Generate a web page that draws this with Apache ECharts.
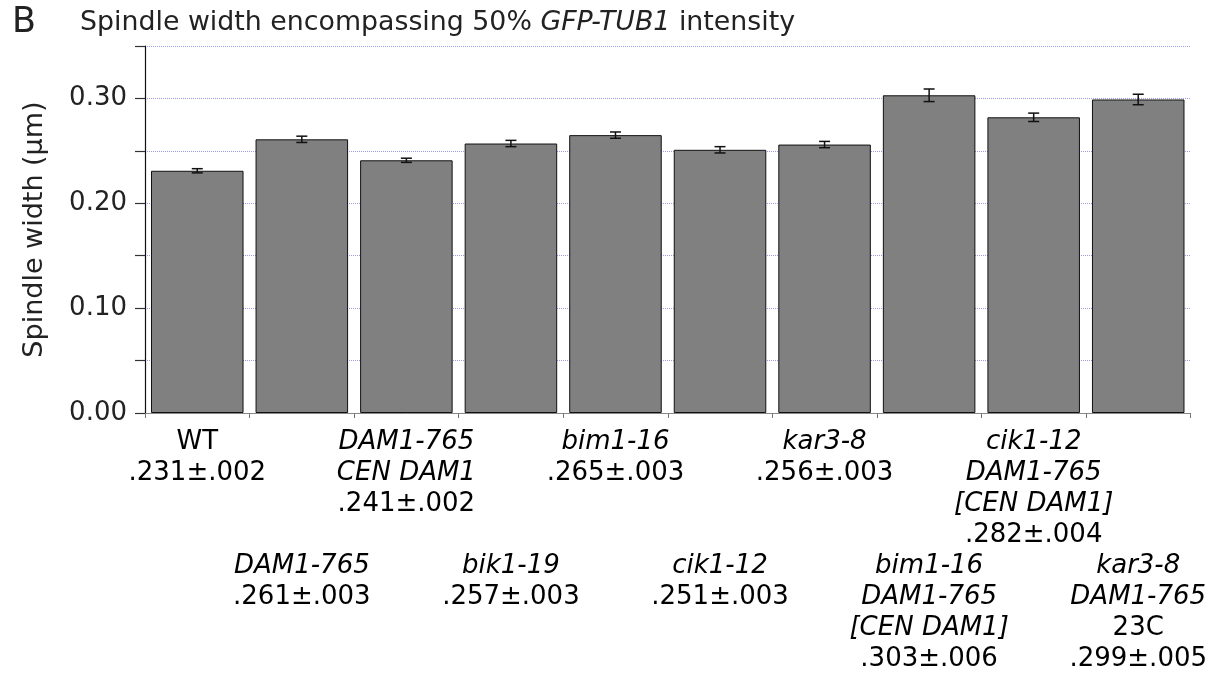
<!DOCTYPE html>
<html>
<head>
<meta charset="utf-8">
<script src="https://cdn.jsdelivr.net/npm/echarts@6/dist/echarts.min.js"></script>
<style>
html,body{margin:0;padding:0;background:#fff;}
#chart{width:1212px;height:677px;}
</style>
</head>
<body>
<div id="chart"></div>
<script>
// ---- data ----
const categories = ['WT', 'DAM1-765', 'DAM1-765 CEN DAM1', 'bik1-19', 'bim1-16', 'cik1-12', 'kar3-8',
  'bim1-16 DAM1-765 [CEN DAM1]', 'cik1-12 DAM1-765 [CEN DAM1]', 'kar3-8 DAM1-765 23C'];
const labelLines = [['WT'], ['DAM1-765'], ['DAM1-765', 'CEN DAM1'], ['bik1-19'], ['bim1-16'], ['cik1-12'], ['kar3-8'],
  ['bim1-16', 'DAM1-765', '[CEN DAM1]'], ['cik1-12', 'DAM1-765', '[CEN DAM1]'], ['kar3-8', 'DAM1-765', '23C']];
const means = [0.231, 0.261, 0.241, 0.257, 0.265, 0.251, 0.256, 0.303, 0.282, 0.299];
const sems = [0.002, 0.003, 0.002, 0.003, 0.003, 0.003, 0.003, 0.006, 0.004, 0.005];
const labelRow = [0, 1, 0, 1, 0, 1, 0, 1, 0, 1];
const yTickLabels = ['0.00', '0.10', '0.20', '0.30'];
const plainWords = ['WT', '23C'];

const FONT = 'DejaVu Sans';

function fmtVal(v) { return v.toFixed(3).replace(/^0/, ''); }
function buildLabel(i) {
  const parts = [];
  for (let k = 0; k < labelRow[i] * 4; k++) parts.push('{s| }');
  labelLines[i].forEach(l => {
    parts.push(plainWords.indexOf(l) >= 0 ? '{n|' + l + '}' : '{i|' + l + '}');
  });
  parts.push('{n|' + fmtVal(means[i]) + '±' + fmtVal(sems[i]) + '}');
  return parts.join('\n');
}

const chart = echarts.init(document.getElementById('chart'), null, {renderer: 'canvas'});
const option = {
  backgroundColor: '#fff',
  animation: false,
  title: {
    text: '{a|Spindle width encompassing 50% }{b|GFP-TUB1}{a| intensity}',
    left: 80, top: 7, padding: 0,
    textStyle: {
      fontWeight: 'normal',
      rich: {
        a: {fontFamily: FONT, fontSize: 26.8, fontWeight: 'normal', color: '#222', lineHeight: 32},
        b: {fontFamily: FONT, fontSize: 26.8, fontWeight: 'normal', color: '#222', fontStyle: 'italic', lineHeight: 32}
      }
    }
  },
  graphic: [{
    type: 'text', left: 12, top: 5,
    style: {text: 'B', font: '35px "DejaVu Sans"', fill: '#222'}
  }],
  grid: {left: 145, right: 21.5, top: 46, bottom: 264, containLabel: false},
  xAxis: {
    type: 'category',
    data: categories,
    axisLine: {lineStyle: {color: '#888', width: 1}},
    axisTick: {show: true, length: 5, lineStyle: {color: '#777'}},
    axisLabel: {
      interval: 0, margin: 14,
      formatter: function (value, index) { return buildLabel(index); },
      rich: {
        i: {fontFamily: FONT, fontSize: 26, fontStyle: 'italic', color: '#000', lineHeight: 31},
        n: {fontFamily: FONT, fontSize: 26, color: '#000', lineHeight: 31},
        s: {fontFamily: FONT, fontSize: 26, color: '#000', lineHeight: 31}
      }
    },
    splitLine: {show: false}
  },
  yAxis: {
    type: 'value',
    min: 0, max: 0.35, interval: 0.05,
    name: 'Spindle width (µm)',
    nameLocation: 'middle',
    nameGap: 97,
    nameTextStyle: {fontFamily: FONT, fontSize: 27, color: '#222'},
    axisLine: {show: true, lineStyle: {color: '#111', width: 1.2}},
    axisTick: {show: true, inside: false, length: 10, lineStyle: {color: '#333', width: 1.2}},
    axisLabel: {
      margin: 18, fontFamily: FONT, fontSize: 26, color: '#222',
      formatter: function (v) { const s = v.toFixed(2); return yTickLabels.indexOf(s) >= 0 ? s : ''; }
    },
    splitLine: {show: true, lineStyle: {color: '#9c9ce8', type: 'dotted', width: 1}}
  },
  series: [{
    type: 'bar',
    data: means,
    barWidth: '88.5%',
    itemStyle: {color: '#808080', borderColor: '#111', borderWidth: 1}
  }, {
    type: 'custom',
    z: 5,
    data: means.map((m, i) => [i, m - sems[i], m + sems[i]]),
    renderItem: function (params, api) {
      const lo = api.coord([api.value(0), api.value(1)]);
      const hi = api.coord([api.value(0), api.value(2)]);
      const hw = 5.5;
      const st = {stroke: '#111', lineWidth: 1.5};
      return {
        type: 'group',
        children: [
          {type: 'line', shape: {x1: lo[0], y1: lo[1], x2: hi[0], y2: hi[1]}, style: st},
          {type: 'line', shape: {x1: lo[0] - hw, y1: lo[1], x2: lo[0] + hw, y2: lo[1]}, style: st},
          {type: 'line', shape: {x1: hi[0] - hw, y1: hi[1], x2: hi[0] + hw, y2: hi[1]}, style: st}
        ]
      };
    }
  }]
};
chart.setOption(option);
</script>
</body>
</html>
